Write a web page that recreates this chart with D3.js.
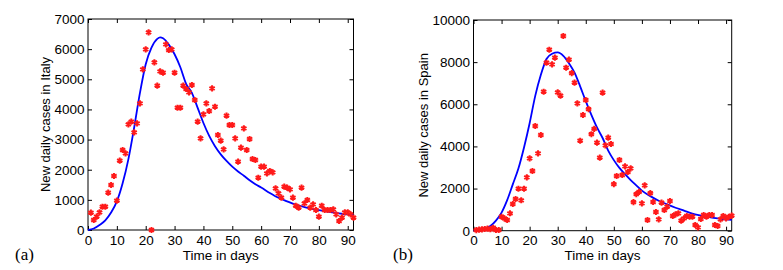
<!DOCTYPE html>
<html><head><meta charset="utf-8">
<script src="https://cdn.jsdelivr.net/npm/d3@7"></script>
<style>
body{margin:0;background:#fff;}
svg{display:block;}
svg text{font-family:"Liberation Sans",Arial,Helvetica,sans-serif;}
svg text.tag{font-family:"Liberation Serif","Times New Roman",serif;}
</style></head>
<body>
<svg id="chart" width="783" height="270"></svg>
<script>
// ---------- DATA ----------
const days = d3.range(1, 93);
const italyCases = [575,332,442,587,773,773,1238,1493,1791,973,2300,2654,2544,3505,3594,3240,3538,4202,5329,5993,
  6557,0,5561,4788,5262,5218,6159,5970,5993,5218,4057,4057,4788,4677,4567,4810,4312,3594,3041,3837,
  4202,3947,4700,4090,3151,2963,2676,3792,3483,3483,3041,2266,2731,3373,2654,3019,2355,2322,1735,2101,
  2101,1880,1957,1913,1383,1217,1072,1437,1404,1350,1072,806,740,1404,885,995,740,852,663,442,
  806,663,663,663,685,520,298,409,587,587,520,409];
const spainCases = [30,50,60,80,100,70,142,33,33,664,588,508,826,1267,1504,1993,1443,1993,2534,3436,
  2833,4969,3673,4542,6597,7973,8590,7897,8211,6568,6410,9241,7736,8120,7480,7030,6046,4271,5491,6203,
  5770,4580,4830,4180,3470,6552,4050,4420,4115,2210,2596,3355,2643,3050,2785,2960,1355,1735,1843,1300,
  2150,508,1780,1362,887,541,1329,982,1139,1409,698,778,826,475,588,698,664,664,270,161,
  555,745,664,745,745,270,223,541,698,588,664,712];
const italyFitT = [0,2,4,6,8,10,12,14,16,18,20,22,24,25,26,28,30,32,34,36,38,40,42,44,46,48,50,52,54,56,58,60,63,66,69,72,75,78,81,84,87,90,92];
const italyFitV = [0,50,166,320,580,950,1550,2350,3400,4550,5500,6050,6340,6390,6360,6150,5830,5400,4850,4550,4050,3550,3120,2780,2510,2290,2100,1940,1800,1650,1520,1410,1230,1070,950,840,760,690,640,590,550,515,490];
const spainFitT = [0,2,4,6,8,10,12,14,16,18,20,22,24,26,28,30,32,34,36,38,40,42,44,46,48,50,52,54,56,58,60,63,66,69,72,75,78,81,84,87,90,92];
const spainFitV = [0,20,80,220,480,860,1450,2200,2950,3950,5100,6400,7400,8150,8400,8460,8300,7950,7500,6850,6150,5500,4900,4400,3800,3350,2980,2680,2400,2150,1900,1640,1420,1250,1090,950,810,720,640,580,540,510];
const xTicks = [0,10,20,30,40,50,60,70,80,90];
const italyYTicks = [0,1000,2000,3000,4000,5000,6000,7000];
const spainYTicks = [0,2000,4000,6000,8000,10000];

const svg = d3.select("#chart");
const fmt = d3.format("d");

function panel(o){
  const x = d3.scaleLinear().domain([0,92]).range([o.left,o.right]);
  const y = d3.scaleLinear().domain([0,o.ymax]).range([o.bottom,o.top]);
  const g = svg.append("g");
  const tl = 4;
  g.append("rect").attr("x",o.left).attr("y",o.top).attr("width",o.right-o.left).attr("height",o.bottom-o.top)
    .attr("fill","none").attr("stroke","#000").attr("stroke-width",1);
  const xb = g.append("g").attr("transform",`translate(0,${o.bottom})`)
    .call(d3.axisBottom(x).tickValues(xTicks).tickFormat(fmt).tickSizeInner(-tl).tickSizeOuter(0).tickPadding(5));
  const xt = g.append("g").attr("transform",`translate(0,${o.top})`)
    .call(d3.axisTop(x).tickValues(xTicks).tickSizeInner(-tl).tickSizeOuter(0).tickFormat(""));
  const yl = g.append("g").attr("transform",`translate(${o.left},0)`)
    .call(d3.axisLeft(y).tickValues(o.yTicks).tickFormat(fmt).tickSizeInner(-tl).tickSizeOuter(0).tickPadding(3.5));
  const yr = g.append("g").attr("transform",`translate(${o.right},0)`)
    .call(d3.axisRight(y).tickValues(o.yTicks).tickSizeInner(-tl).tickSizeOuter(0).tickFormat(""));
  [xb,xt,yl,yr].forEach(a=>{a.select(".domain").remove();a.attr("font-family",null).attr("font-size",null);});
  g.selectAll(".tick text").attr("font-size",13.5).attr("fill","#000");
  g.selectAll(".tick line").attr("stroke","#000");
  const pts = o.fitT.map((t,i)=>[t,o.fitV[i]]);
  g.append("path").datum(pts)
    .attr("d", d3.line().x(d=>x(d[0])).y(d=>y(d[1])).curve(d3.curveMonotoneX))
    .attr("fill","none").attr("stroke","#0000ff").attr("stroke-width",1.8);
  const sym = d3.symbol().type(d3.symbolAsterisk).size(26);
  g.selectAll("path.pt").data(days.map((d,i)=>[d,o.cases[i]])).join("path")
    .attr("class","pt")
    .attr("transform",d=>`translate(${x(d[0])},${y(d[1])})`)
    .attr("d",sym).attr("fill","none").attr("stroke","#ff1a1a").attr("stroke-width",2);
  g.append("text").attr("x",(o.left+o.right)/2).attr("y",260).attr("text-anchor","middle")
    .attr("font-size",13.5).text("Time in days");
  g.append("text").attr("transform",`translate(${o.ylabX},${(o.top+o.bottom)/2}) rotate(-90)`)
    .attr("text-anchor","middle").attr("font-size",13).text(o.ylabel);
  g.append("text").attr("class","tag").attr("x",o.tagX).attr("y",260)
    .attr("font-size",17).text(o.tag);
}
panel({left:88,right:353.5,top:19,bottom:230,ymax:7000,yTicks:italyYTicks,cases:italyCases,
  fitT:italyFitT,fitV:italyFitV,ylabel:"New daily cases in Italy",ylabX:49.5,tag:"(a)",tagX:15});
panel({left:473.5,right:731.7,top:20,bottom:230.7,ymax:10000,yTicks:spainYTicks,cases:spainCases,
  fitT:spainFitT,fitV:spainFitV,ylabel:"New daily cases in Spain",ylabX:427.5,tag:"(b)",tagX:393});
</script>
</body></html>
